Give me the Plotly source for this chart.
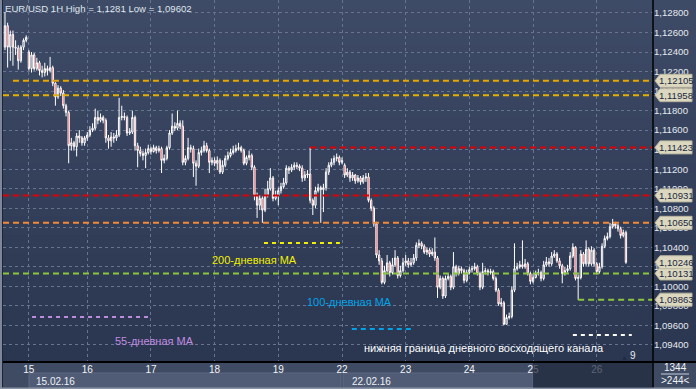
import plotly.graph_objects as go

# ---------------- data ----------------
day_ticks = [9, 31, 55, 79, 103, 127, 151, 175, 199, 223]
day_labels = ["15", "16", "17", "18", "19", "22", "23", "24", "25", "26"]

closes = [
    1.1267, 1.1245, 1.1258, 1.1245, 1.1244, 1.1231, 1.1245, 1.1252, 1.1255, 1.1223,
    1.1237, 1.1223, 1.1229, 1.1221, 1.1219, 1.1223, 1.1221, 1.1224, 1.1208, 1.1194,
    1.1203, 1.1198, 1.1185, 1.1178, 1.1144, 1.1147, 1.1143, 1.1154, 1.1152, 1.1147,
    1.1152, 1.1155, 1.1160, 1.1162, 1.1173, 1.1170, 1.1173, 1.1170, 1.1152, 1.1149,
    1.1153, 1.1152, 1.1155, 1.1173, 1.1174, 1.1173, 1.1157, 1.1158, 1.1173, 1.1144,
    1.1139, 1.1136, 1.1134, 1.1137, 1.1141, 1.1138, 1.1142, 1.1139, 1.1141, 1.1129,
    1.1131, 1.1142, 1.1157, 1.1164, 1.1162, 1.1167, 1.1164, 1.1127, 1.1131, 1.1142,
    1.1141, 1.1126, 1.1123, 1.1137, 1.1139, 1.1144, 1.1139, 1.1127, 1.1129, 1.1126,
    1.1129, 1.1117, 1.1124, 1.1131, 1.1134, 1.1137, 1.1139, 1.1141, 1.1142, 1.1139,
    1.1126, 1.1132, 1.1134, 1.1122, 1.1093, 1.1083, 1.1090, 1.1078, 1.1093, 1.1100,
    1.1111, 1.1090, 1.1093, 1.1098, 1.1102, 1.1106, 1.1121, 1.1119, 1.1122, 1.1124,
    1.1123, 1.1121, 1.1111, 1.1114, 1.1115, 1.1088, 1.1083, 1.1098, 1.1101, 1.1099,
    1.1101, 1.1117, 1.1124, 1.1127, 1.1131, 1.1132, 1.1127, 1.1129, 1.1114, 1.1117,
    1.1111, 1.1114, 1.1108, 1.1111, 1.1107, 1.1111, 1.1112, 1.1088, 1.1080, 1.1064,
    1.1032, 1.1026, 1.1004, 1.1016, 1.1024, 1.1014, 1.1022, 1.1029, 1.1011, 1.1016,
    1.1024, 1.1026, 1.1022, 1.1024, 1.1029, 1.1042, 1.1044, 1.1041, 1.1035, 1.1037,
    1.1033, 1.1035, 1.1029, 1.0999, 1.1008, 1.0990, 1.1008, 1.1010, 1.0999, 1.1020,
    1.1013, 1.1018, 1.1016, 1.1006, 1.1014, 1.1017, 1.1018, 1.1020, 1.1013, 1.0999,
    1.1015, 1.1016, 1.1014, 1.1015, 1.1008, 1.0996, 1.0982, 1.0983, 1.0961, 1.0968,
    1.0969, 1.0996, 1.1018, 1.1020, 1.1022, 1.1020, 1.1023, 1.1013, 1.1005, 1.1009,
    1.1013, 1.1014, 1.1008, 1.1022, 1.1025, 1.1023, 1.1031, 1.1033, 1.1026, 1.1021,
    1.1013, 1.1016, 1.1018, 1.1031, 1.1040, 1.1008, 1.1009, 1.1033, 1.1023, 1.1038,
    1.1023, 1.1037, 1.1023, 1.1015, 1.1020, 1.1041, 1.1049, 1.1051, 1.1061, 1.1064,
    1.1062, 1.1059, 1.1052, 1.1055, 1.10246,
]

highs = [
    1.1281, 1.1270, 1.1262, 1.1262, 1.1252, 1.1247, 1.1247, 1.1254, 1.1257, 1.1242,
    1.1240, 1.1239, 1.1234, 1.1231, 1.1226, 1.1229, 1.1226, 1.1235, 1.1226, 1.1209,
    1.1206, 1.1205, 1.1201, 1.1187, 1.1180, 1.1152, 1.1149, 1.1157, 1.1160, 1.1154,
    1.1154, 1.1158, 1.1164, 1.1167, 1.1182, 1.1180, 1.1177, 1.1175, 1.1172, 1.1155,
    1.1158, 1.1157, 1.1160, 1.1193, 1.1185, 1.1178, 1.1175, 1.1162, 1.1180, 1.1175,
    1.1147, 1.1143, 1.1139, 1.1141, 1.1145, 1.1143, 1.1145, 1.1144, 1.1144, 1.1143,
    1.1135, 1.1144, 1.1160, 1.1177, 1.1168, 1.1180, 1.1170, 1.1170, 1.1134, 1.1152,
    1.1145, 1.1144, 1.1129, 1.1141, 1.1143, 1.1149, 1.1147, 1.1141, 1.1132, 1.1132,
    1.1133, 1.1131, 1.1129, 1.1134, 1.1138, 1.1141, 1.1144, 1.1145, 1.1147, 1.1144,
    1.1141, 1.1134, 1.1139, 1.1136, 1.1124, 1.1096, 1.1093, 1.1092, 1.1100, 1.1108,
    1.1121, 1.1113, 1.1098, 1.1101, 1.1106, 1.1111, 1.1124, 1.1123, 1.1125, 1.1127,
    1.1127, 1.1125, 1.1124, 1.1118, 1.1119, 1.1142, 1.1090, 1.1102, 1.1105, 1.1103,
    1.1105, 1.1121, 1.1127, 1.1131, 1.1134, 1.1136, 1.1134, 1.1132, 1.1126, 1.1121,
    1.1119, 1.1117, 1.1115, 1.1114, 1.1113, 1.1114, 1.1116, 1.1116, 1.1090, 1.1082,
    1.1066, 1.1037, 1.1029, 1.1021, 1.1032, 1.1026, 1.1029, 1.1037, 1.1031, 1.1021,
    1.1029, 1.1032, 1.1029, 1.1029, 1.1033, 1.1045, 1.1048, 1.1046, 1.1043, 1.1040,
    1.1039, 1.1039, 1.1050, 1.1031, 1.1011, 1.1010, 1.1011, 1.1013, 1.1012, 1.1035,
    1.1022, 1.1021, 1.1020, 1.1018, 1.1017, 1.1020, 1.1021, 1.1024, 1.1022, 1.1015,
    1.1024, 1.1019, 1.1018, 1.1018, 1.1017, 1.1010, 1.0998, 1.0988, 1.0985, 1.0971,
    1.0973, 1.1000, 1.1044, 1.1024, 1.1026, 1.1047, 1.1028, 1.1025, 1.1015, 1.1013,
    1.1016, 1.1018, 1.1016, 1.1026, 1.1030, 1.1029, 1.1035, 1.1037, 1.1035, 1.1029,
    1.1023, 1.1020, 1.1022, 1.1035, 1.1044, 1.1041, 1.1012, 1.1037, 1.1035, 1.1047,
    1.1040, 1.1041, 1.1039, 1.1025, 1.1024, 1.1044, 1.1052, 1.1055, 1.1065, 1.1069,
    1.1066, 1.1064, 1.1061, 1.1058, 1.1057,
]

lows = [
    1.1242, 1.1224, 1.1231, 1.1226, 1.1237, 1.1222, 1.1229, 1.1242, 1.1250, 1.1221,
    1.1219, 1.1221, 1.1221, 1.1216, 1.1214, 1.1215, 1.1216, 1.1219, 1.1205, 1.1185,
    1.1192, 1.1195, 1.1182, 1.1174, 1.1126, 1.1139, 1.1139, 1.1133, 1.1147, 1.1144,
    1.1144, 1.1149, 1.1153, 1.1158, 1.1160, 1.1166, 1.1168, 1.1167, 1.1147, 1.1141,
    1.1143, 1.1147, 1.1149, 1.1153, 1.1170, 1.1170, 1.1154, 1.1155, 1.1156, 1.1139,
    1.1122, 1.1133, 1.1129, 1.1121, 1.1135, 1.1135, 1.1137, 1.1136, 1.1137, 1.1116,
    1.1126, 1.1129, 1.1140, 1.1155, 1.1159, 1.1160, 1.1161, 1.1124, 1.1124, 1.1129,
    1.1137, 1.1112, 1.1103, 1.1121, 1.1134, 1.1137, 1.1137, 1.1116, 1.1124, 1.1123,
    1.1119, 1.1115, 1.1115, 1.1122, 1.1129, 1.1132, 1.1135, 1.1137, 1.1139, 1.1137,
    1.1124, 1.1124, 1.1129, 1.1119, 1.1088, 1.1070, 1.1078, 1.1065, 1.1076, 1.1091,
    1.1098, 1.1087, 1.1088, 1.1083, 1.1095, 1.1100, 1.1104, 1.1115, 1.1117, 1.1119,
    1.1120, 1.1118, 1.1107, 1.1108, 1.1111, 1.1085, 1.1073, 1.1080, 1.1096, 1.1065,
    1.1076, 1.1098, 1.1114, 1.1122, 1.1124, 1.1128, 1.1124, 1.1125, 1.1111, 1.1112,
    1.1107, 1.1108, 1.1105, 1.1106, 1.1104, 1.1105, 1.1107, 1.1086, 1.1077, 1.1061,
    1.1029, 1.1022, 1.1002, 1.1002, 1.1014, 1.1010, 1.1012, 1.1020, 1.1008, 1.1009,
    1.1014, 1.1021, 1.1019, 1.1020, 1.1022, 1.1026, 1.1039, 1.1038, 1.1033, 1.1032,
    1.1030, 1.1031, 1.1026, 1.0988, 1.0997, 1.0987, 1.0988, 1.1006, 1.0996, 1.0997,
    1.1010, 1.1011, 1.1013, 1.1003, 1.1004, 1.1012, 1.1014, 1.1016, 1.1011, 1.0996,
    1.0997, 1.1012, 1.1011, 1.1012, 1.1006, 1.0994, 1.0980, 1.0979, 1.09602, 1.0961,
    1.0966, 1.0967, 1.0994, 1.1016, 1.1018, 1.1018, 1.1018, 1.1011, 1.1002, 1.1003,
    1.1008, 1.1011, 1.1005, 1.1006, 1.1020, 1.1020, 1.1021, 1.1029, 1.1024, 1.1018,
    1.1003, 1.1011, 1.1014, 1.1016, 1.1029, 1.1006, 1.0986, 1.1007, 1.1020, 1.1021,
    1.1020, 1.1021, 1.1020, 1.1012, 1.1013, 1.1018, 1.1039, 1.1047, 1.1049, 1.1059,
    1.1059, 1.1056, 1.1049, 1.1050, 1.1023,
]

first_open = 1.1245
gap_opens = {9: 1.1240, 128: 1.1124}

# horizontal levels
level_values = [1.12105, 1.11958, 1.11423, 1.10931, 1.10650, 1.10131, 1.09863]
level_colors = ["#e8a600", "#e6b000", "#e00000", "#e00000", "#f28a38", "#8cc63f", "#8cc63f"]
level_start = [3, -0.75, 115, -0.75, -0.75, -0.75, 216]
current_price = 1.10246

# moving averages / annotations
ma_names = ["200-дневная MA", "100-дневная MA", "55-дневная MA",
            "нижняя граница дневного восходящего канала"]
ma_values = [1.10443, 1.09562, 1.09685, 1.09501]
ma_colors = ["#f0f000", "#00a2e8", "#c08ce0", "#ffffff"]
ma_x0 = [97.6, 130.7, 10.2, 214.0]
ma_x1 = [126.2, 153.4, 53.9, 236.2]
ma_label_x = [77.2, 113.0, 40.7, 134.5]
ma_label_y = [1.10269, 1.09839, 1.09439, 1.09368]

# ---------------- derived ----------------
opens = [first_open] + closes[:-1]
for k, v in gap_opens.items():
    opens[k] = v
xs = list(range(len(closes)))

W, H = 696, 389
ML, MR, MT, MB = 3, 43, 0, 27
PW, PH = W - ML - MR, H - MT - MB
XR = [-0.75, 244.2]
YR = [1.09224, 1.12933]


def px(xp):
    return (xp - ML) / PW


def py(yp):
    return (MT + PH - yp) / PH


def fmt(v):
    return str(v).replace(".", ",")


fig = go.Figure()
fig.add_trace(go.Candlestick(
    x=xs, open=opens, high=highs, low=lows, close=closes,
    increasing=dict(line=dict(color="#ffffff", width=1), fillcolor="rgba(0,0,0,0)"),
    decreasing=dict(line=dict(color="#ffffff", width=1), fillcolor="#ff0000"),
    whiskerwidth=0, hoverinfo="skip", showlegend=False,
))

shapes = []
# vertical gradient background (plot + right axis area)
top_c = (62, 75, 102)
bot_c = (43, 54, 80)
n = 40
for k in range(n):
    t = k / (n - 1)
    c = tuple(round(top_c[i] + (bot_c[i] - top_c[i]) * t) for i in range(3))
    shapes.append(dict(type="rect", xref="paper", yref="paper", x0=px(0), x1=px(W),
                       y0=1 - (k + 1) / n - 0.002, y1=1 - k / n,
                       fillcolor="rgb(%d,%d,%d)" % c, line=dict(width=0), layer="below"))

# bottom strip boxes
shapes.append(dict(type="rect", xref="paper", yref="paper", x0=px(29), x1=px(341),
                   y0=py(388), y1=py(373), fillcolor="#505c75",
                   line=dict(color="#5d6982", width=1), layer="below"))
shapes.append(dict(type="rect", xref="paper", yref="paper", x0=px(343), x1=px(533),
                   y0=py(388), y1=py(373), fillcolor="#505c75",
                   line=dict(color="#5d6982", width=1), layer="below"))

# level lines
for v, c, s in zip(level_values, level_colors, level_start):
    shapes.append(dict(type="line", xref="x", yref="y", x0=s, x1=XR[1], y0=v, y1=v,
                       line=dict(color=c, width=2, dash="6px,4px"), layer="above"))

# MA segments
ma_dash = ["4px,4px", "5px,4px", "4px,4px", "4px,4px"]
for v, c, a, b, d in zip(ma_values, ma_colors, ma_x0, ma_x1, ma_dash):
    shapes.append(dict(type="line", xref="x", yref="y", x0=a, x1=b, y0=v, y1=v,
                       line=dict(color=c, width=2, dash=d), layer="above"))

# price tags on right axis
tag_vals = level_values + [current_price]
for v in tag_vals:
    shapes.append(dict(type="path", xref="paper", yref="y", xsizemode="pixel",
                       ysizemode="pixel", xanchor=1, yanchor=v,
                       path="M 2,0 L 7,6.5 L 39,6.5 L 39,-6.5 L 7,-6.5 Z",
                       fillcolor="#dcd8c0", line=dict(color="#b8b49e", width=1), layer="above"))

# frame lines
shapes.append(dict(type="line", xref="paper", yref="paper", x0=px(0), x1=px(W),
                   y0=0, y1=0, line=dict(color="#000000", width=2), layer="above"))
shapes.append(dict(type="line", xref="paper", yref="paper", x0=1, x1=1,
                   y0=py(H), y1=py(0), line=dict(color="#000000", width=1.5), layer="above"))
shapes.append(dict(type="rect", xref="paper", yref="paper", x0=px(0), x1=px(2),
                   y0=py(H), y1=py(0), fillcolor="#7d879b", line=dict(width=0), layer="above"))
shapes.append(dict(type="line", xref="paper", yref="paper", x0=px(2.5), x1=px(2.5),
                   y0=py(H), y1=py(0), line=dict(color="#1c2436", width=1), layer="above"))
shapes.append(dict(type="rect", xref="paper", yref="paper", x0=px(0), x1=px(W),
                   y0=py(H), y1=py(387.5), fillcolor="#8a93a6", line=dict(width=0), layer="above"))
# dimmed future region of the time strip
shapes.append(dict(type="rect", xref="paper", yref="paper", x0=px(533), x1=px(652),
                   y0=py(387.5), y1=py(363), fillcolor="rgba(32,42,62,0.72)",
                   line=dict(width=0), layer="above"))
# bottom-right box separator
shapes.append(dict(type="line", xref="paper", yref="paper", x0=px(661), x1=px(689),
                   y0=py(374), y1=py(374), line=dict(color="#c8ceda", width=1), layer="above"))

annotations = []
font_main = "Liberation Sans, Arial, sans-serif"


def note(x, y, text, size=10, color="#eef1f6", xa="center", ya="middle", xref="paper", yref="paper"):
    annotations.append(dict(xref=xref, yref=yref, x=x, y=y, xanchor=xa, yanchor=ya,
                            text=text, showarrow=False,
                            font=dict(family=font_main, size=size, color=color)))


note(px(3), py(8), "EUR/USD 1H High = %s Low = %s" % (fmt(max(highs)), fmt(min(lows))),
     size=9.6, color="#dfe5ee", xa="left")
for v in tag_vals:
    note(px(676), v, fmt("%.5f" % v), size=9.6, color="#1a2740", yref="y")
for name, c, lx, ly in zip(ma_names, ma_colors, ma_label_x, ma_label_y):
    note(lx, ly, name, size=11, color=c, xa="left", xref="x", yref="y")
note(px(633), py(355), "9", size=10, color="#e8ecf2")
note(px(624), py(357), "▲", size=7, color="#222b40")
note(px(34), py(381), "15.02.16", xa="left")
note(px(350), py(381), "22.02.16", xa="left")
note(px(675), py(367.5), "1344")
note(px(675), py(380.5), "&gt;244&lt;")

grid_c = "#66748f"
fig.update_layout(
    width=W, height=H,
    margin=dict(l=ML, r=MR, t=MT, b=MB, pad=0),
    paper_bgcolor="#3f4b63",
    plot_bgcolor="rgba(0,0,0,0)",
    separators=", ",
    showlegend=False,
    font=dict(family=font_main, size=10, color="#e6ebf2"),
    xaxis=dict(range=XR, tickvals=day_ticks, ticktext=day_labels, showgrid=True,
               gridcolor=grid_c, griddash="3px,3px", gridwidth=1, zeroline=False,
               showline=False, ticks="", rangeslider=dict(visible=False), fixedrange=True,
               tickfont=dict(family=font_main, size=10, color="#f2f4f8")),
    yaxis=dict(range=YR, side="right", tick0=1.0, dtick=0.002, tickformat=".5f",
               showgrid=True, gridcolor=grid_c, griddash="3px,3px", gridwidth=1,
               zeroline=False, showline=False, ticks="", fixedrange=True,
               tickfont=dict(family=font_main, size=9.6, color="#e4e9f0")),
    shapes=shapes,
    annotations=annotations,
)

fig.write_html("out.html", config={"displayModeBar": False},
               post_script="document.body.style.margin='0px';document.body.style.padding='0px';")
